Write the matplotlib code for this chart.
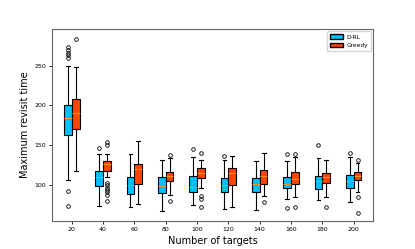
import numpy as np
import matplotlib.pyplot as plt
from matplotlib.patches import Patch

# numero de objetivos
targets = [20, 40, 60, 80, 100, 120, 140, 160, 180, 200]

# estadisticos (D-RL)
drl_med = [184, 110, 100, 99, 98, 100, 101, 102, 105, 105]
drl_q1 = [163, 99, 89, 90, 91, 91, 92, 96, 95, 97]
drl_q3 = [201, 118, 110, 110, 112, 109, 109, 110, 112, 113]
drl_lo = [107, 74, 73, 68, 75, 70, 69, 83, 81, 79]
drl_hi = [249, 139, 139, 132, 135, 131, 130, 130, 134, 135]
drl_fliers = [[274, 270, 266, 263, 260, 93, 74], [147], [], [], [145],
              [136], [], [139, 71], [151], [140]]

# estadisticos (Greedy)
gr_med = [191, 126, 120, 112, 115, 115, 111, 108, 110, 111]
gr_q1 = [170, 118, 102, 105, 109, 100, 102, 101, 103, 106]
gr_q3 = [208, 130, 126, 117, 121, 121, 119, 116, 115, 116]
gr_lo = [118, 110, 76, 88, 97, 73, 86, 85, 85, 91]
gr_hi = [248, 139, 156, 134, 131, 136, 140, 135, 132, 128]
gr_fliers = [[284], [154, 150, 103, 100, 97, 94, 91, 88, 80], [], [138, 80],
             [140, 86, 83, 72], [], [79], [139, 72], [72], [132, 85, 65]]


def make_stats(med, q1, q3, lo, hi, fl):
    stats = []
    for i in range(len(med)):
        stats.append({'med': med[i], 'q1': q1[i], 'q3': q3[i],
                      'whislo': lo[i], 'whishi': hi[i],
                      'fliers': np.array(fl[i], dtype=float)})
    return stats


fig = plt.figure(figsize=(4.15, 2.49), dpi=100)
ax = fig.add_axes([0.1246, 0.1124, 0.7744, 0.7711])

pos = np.arange(1, len(targets) + 1)
w = 0.245

estilo = dict(patch_artist=True, widths=w, manage_ticks=False,
              medianprops=dict(color='#ff8c1a', linewidth=0.8),
              whiskerprops=dict(color='black', linewidth=0.8),
              capprops=dict(color='black', linewidth=0.8),
              flierprops=dict(marker='o', markersize=2.6, markerfacecolor='none',
                              markeredgecolor='black', markeredgewidth=0.6))

b1 = ax.bxp(make_stats(drl_med, drl_q1, drl_q3, drl_lo, drl_hi, drl_fliers),
            positions=pos - 0.125,
            boxprops=dict(facecolor='#00bfff', edgecolor='black', linewidth=0.8),
            **estilo)
b2 = ax.bxp(make_stats(gr_med, gr_q1, gr_q3, gr_lo, gr_hi, gr_fliers),
            positions=pos + 0.125,
            boxprops=dict(facecolor='#ff4500', edgecolor='black', linewidth=0.8),
            **estilo)

ax.set_xlim(0.36, 10.62)
ax.set_ylim(55, 296)
ax.set_xticks(pos)
ax.set_xticklabels([str(t) for t in targets])
ax.set_yticks([100, 150, 200, 250])
ax.tick_params(labelsize=4.5, length=2, width=0.6, pad=2)
for s in ax.spines.values():
    s.set_color('0.4')
    s.set_linewidth(0.8)

ax.set_xlabel('Number of targets', fontsize=7, labelpad=3)
ax.set_ylabel('Maximum revisit time', fontsize=7, labelpad=3)

handles = [Patch(facecolor='#00bfff', edgecolor='black', label='D-RL'),
           Patch(facecolor='#ff4500', edgecolor='black', label='Greedy')]
ax.legend(handles=handles, loc='upper right', fontsize=4.2,
          handlelength=2.2, handleheight=0.9, borderpad=0.5, labelspacing=0.5,
          handletextpad=0.6, borderaxespad=0.4)

fig.savefig('out.png', dpi=100)
